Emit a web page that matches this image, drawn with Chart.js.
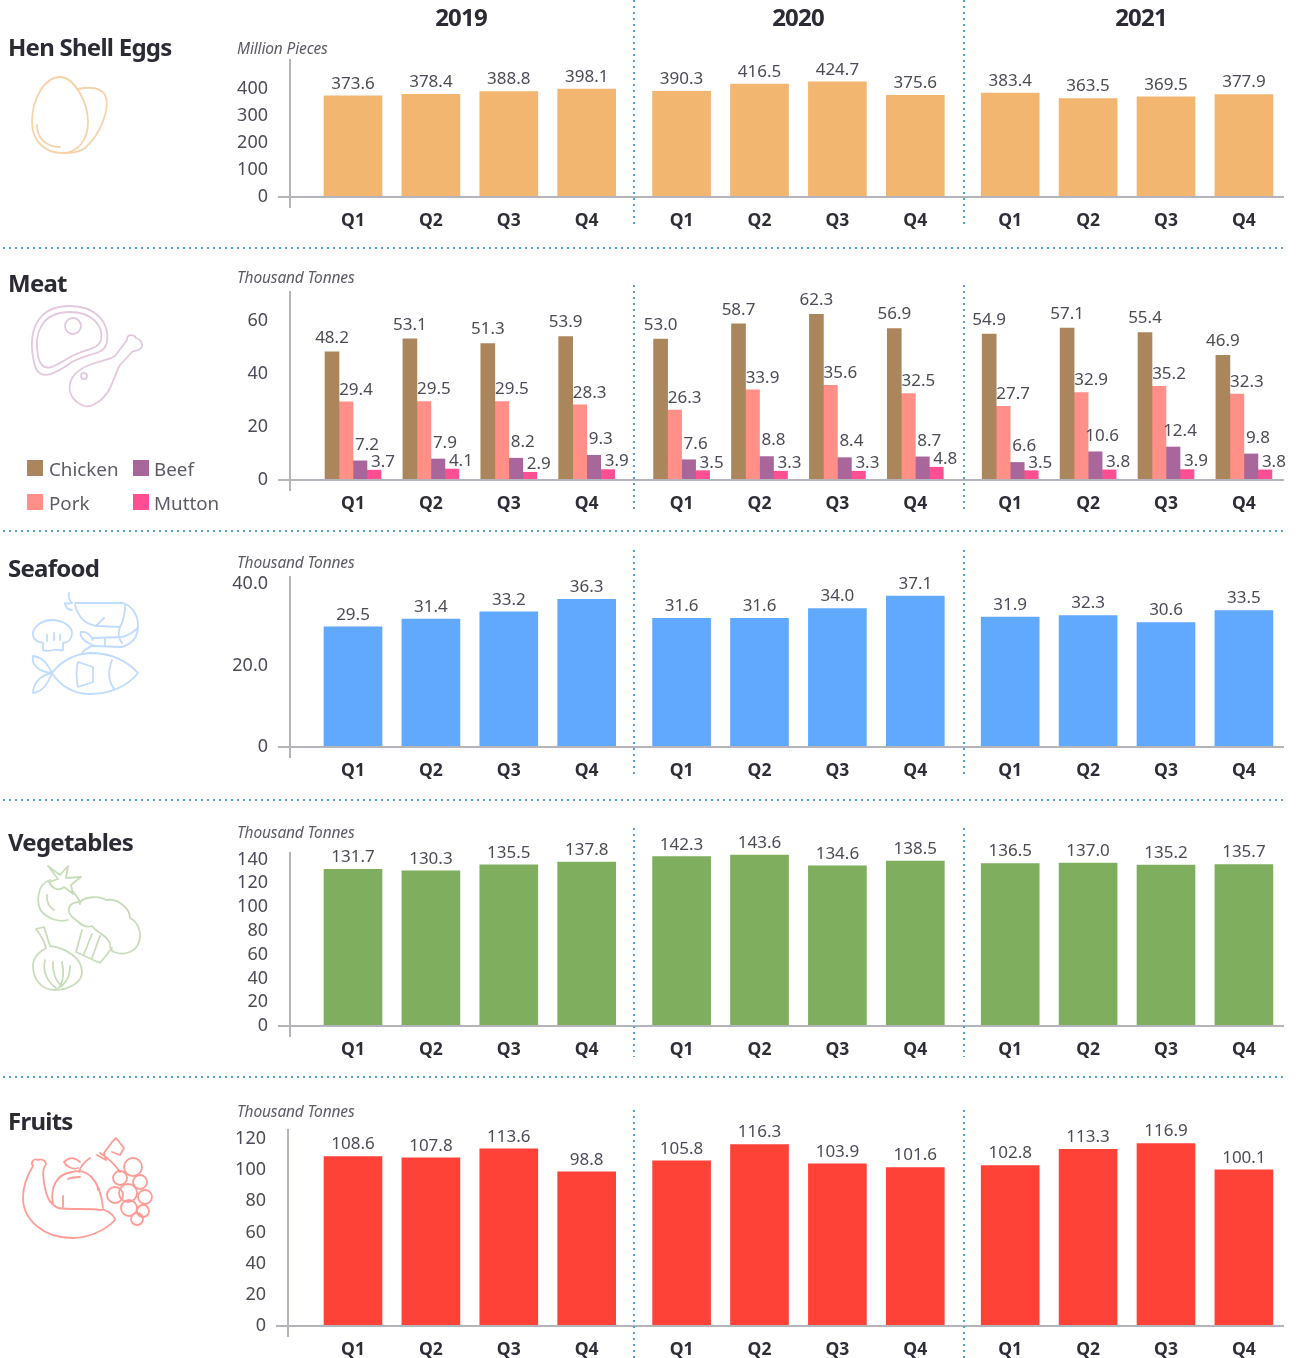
<!DOCTYPE html>
<html>
<head>
<meta charset="utf-8">
<title>Food production by quarter</title>
<script src="https://cdn.jsdelivr.net/npm/chart.js@4"></script>
<style>
    html, body { margin: 0; padding: 0; background: #fff; }
    #page { position: relative; width: 1297px; height: 1358px; overflow: hidden; font-family: "Noto Sans", sans-serif; }
    #page canvas { position: absolute; left: 0; }
    .txt { position: absolute; white-space: nowrap; line-height: 30px; height: 30px; }
    .title { left: 8px; font-size: 24px; font-weight: 700; color: #2b2b35; letter-spacing: -0.75px; }
    .year { font-size: 24px; font-weight: 700; color: #2b2b35; letter-spacing: -0.8px; transform: translateX(-50%); }
    .unit { left: 237px; font-size: 15.5px; font-style: italic; color: #5c5c66; letter-spacing: -0.15px; }
    .legend { font-size: 18.8px; color: #5c5c68; }
    .swatch { position: absolute; width: 16px; height: 16px; }
    .hline { position: absolute; left: 3px; width: 1282px; height: 2px; background: repeating-linear-gradient(90deg, #4fa5cf 0 2px, transparent 2px 6px); }
    .vline { position: absolute; width: 2px; background: repeating-linear-gradient(180deg, #4fa5cf 0 2px, transparent 2px 6px); }
    #icons { position: absolute; left: 0; top: 0; }
    #icons * { fill: none; stroke-width: 1.8; stroke-linecap: round; stroke-linejoin: round; }
</style>
</head>
<body>
<div id="page">
<svg id="icons" width="1297" height="1358">
    <g stroke="#f6d3a8">
        <path d="M60 77C44 77 32 100 32 122C32 142 46 153 62 153C78 153 88 140 88 122C88 102 74 77 60 77Z"/>
        <path d="M78 89C88 87 100 86 105 95C111 108 100 135 85 148C78 153 70 153 62 153"/>
        <path d="M37 125C37 138 46 147 60 147"/>
    </g>
    <g stroke="#e3c8de">
        <path d="M34 362C28 335 34 306 70 306C95 306 110 322 107 342C104 356 90 352 72 362C58 372 38 385 34 362Z"/>
        <path d="M38 356C34 335 40 312 70 312C92 312 104 326 101 340C98 350 86 348 70 357C56 366 42 376 38 356Z"/>
        <circle cx="73" cy="326" r="8"/>
        <path d="M70 384C72 372 84 366 98 362C106 360 112 358 115 356L127 340C126 334 134 334 136 338C142 340 144 346 140 349C136 352 134 350 132 352L120 365C116 372 114 380 110 388C104 400 92 408 84 406C74 402 68 394 70 384Z"/>
        <circle cx="84" cy="376" r="3"/>
    </g>
    <g stroke="#bfdcff">
        <path d="M69 593C68 598 70 601 72 603C68 604 65 603 65 603C65 607 68 610 72 610"/>
        <path d="M75 603L123 603C132 606 138 615 138 625C138 634 135 640 130 643C126 646 122 647 120 647L93 646"/>
        <path d="M75 605C78 616 84 625 98 626L120 627C124 620 125 612 125 605"/>
        <path d="M120 627C118 632 118 638 122 643M138 628C132 633 128 636 122 637L93 638M105 638L105 646M96 626L104 618"/>
        <path d="M93 640C90 634 86 631 81 632C79 636 84 642 93 645C88 648 84 650 82 653"/>
        <path d="M43 643C36 642 32 638 33 632C36 624 44 620 52 620C62 620 72 626 72 633C72 639 68 643 63 643L63 650C58 651 56 649 53 650C50 651 46 651 43 650Z"/>
        <path d="M47 635L47 641M54 633L54 640M60 635L60 640"/>
        <path d="M52 673C62 660 76 654 90 653C112 653 128 662 138 673C128 686 110 694 90 694C74 694 60 686 52 673Z"/>
        <path d="M52 673C47 663 42 657 33 656C31 664 38 672 52 673C40 675 33 684 33 693C42 692 48 684 52 673"/>
        <path d="M78 662L93 667L93 682L78 687C76 678 76 670 78 662ZM112 660C108 670 108 680 114 689"/>
    </g>
    <g stroke="#c8ddb9">
        <path d="M48 866L60 875L68 866L66 878L81 877L71 885L73 894L64 887C58 892 52 888 49 882L58 879Z"/>
        <path d="M50 880C36 884 36 906 42 912C50 920 60 922 68 920M72 890C78 898 80 900 80 904"/>
        <path d="M47 895C46 902 50 908 54 910"/>
        <path d="M76 920C64 912 68 902 80 902C86 896 100 896 106 900C120 898 130 910 130 918C138 922 142 932 139 942C136 952 124 956 114 952C108 950 112 944 108 940C104 934 96 932 92 926C86 928 80 924 76 920Z"/>
        <path d="M82 930L76 952L100 963L112 948M92 934L84 954M100 936L92 958"/>
        <path d="M36 929L44 927L50 946C66 948 82 958 82 972C82 984 66 990 55 990C42 990 33 980 33 966C33 956 42 950 46 948C44 940 40 934 36 929Z"/>
        <path d="M45 960C42 972 48 982 56 988M53 962C52 972 56 982 62 986M62 962C64 972 64 980 60 986M70 966C70 976 66 984 58 988"/>
    </g>
    <g stroke="#ff9c96">
        <path d="M33 1166C30 1162 34 1158 38 1160C42 1158 48 1162 45 1166C42 1170 43 1178 45 1188C47 1198 50 1204 58 1208C70 1210 90 1208 100 1210C104 1208 114 1214 115 1220C104 1232 86 1238 72 1238C44 1238 23 1220 23 1198C23 1186 28 1174 33 1166Z"/>
        <path d="M53 1204C50 1188 56 1174 72 1172C86 1168 100 1178 103 1208M63 1196L63 1207M68 1179C72 1177 76 1177 80 1177M92 1178C96 1182 98 1186 98 1190"/>
        <path d="M79 1172C80 1168 84 1162 90 1158M78 1168C72 1170 66 1166 64 1162C70 1156 76 1158 80 1162"/>
        <path d="M97 1155L106 1160L104 1153L112 1142L116 1138L124 1148L120 1155L112 1152M100 1153C108 1158 116 1166 120 1172"/>
        <circle cx="133" cy="1167" r="9"/><circle cx="120" cy="1178" r="7"/><circle cx="140" cy="1182" r="7"/>
        <circle cx="115" cy="1195" r="8"/><circle cx="128" cy="1193" r="9"/><circle cx="145" cy="1197" r="7"/>
        <circle cx="129" cy="1208" r="8"/><circle cx="143" cy="1211" r="6"/><circle cx="137" cy="1219" r="6"/>
    </g>
</svg>
</div>
<script>
const years = ['2019', '2020', '2021'];
const quarters = ['Q1', 'Q2', 'Q3', 'Q4'];

const eggs = [373.6, 378.4, 388.8, 398.1, 390.3, 416.5, 424.7, 375.6, 383.4, 363.5, 369.5, 377.9];
const chicken = [48.2, 53.1, 51.3, 53.9, 53.0, 58.7, 62.3, 56.9, 54.9, 57.1, 55.4, 46.9];
const pork = [29.4, 29.5, 29.5, 28.3, 26.3, 33.9, 35.6, 32.5, 27.7, 32.9, 35.2, 32.3];
const beef = [7.2, 7.9, 8.2, 9.3, 7.6, 8.8, 8.4, 8.7, 6.6, 10.6, 12.4, 9.8];
const mutton = [3.7, 4.1, 2.9, 3.9, 3.5, 3.3, 3.3, 4.8, 3.5, 3.8, 3.9, 3.8];
const seafood = [29.5, 31.4, 33.2, 36.3, 31.6, 31.6, 34.0, 37.1, 31.9, 32.3, 30.6, 33.5];
const vegetables = [131.7, 130.3, 135.5, 137.8, 142.3, 143.6, 134.6, 138.5, 136.5, 137.0, 135.2, 135.7];
const fruits = [108.6, 107.8, 113.6, 98.8, 105.8, 116.3, 103.9, 101.6, 102.8, 113.3, 116.9, 100.1];

const eggTicks = [0, 100, 200, 300, 400];
const meatTicks = [0, 20, 40, 60];
const seafoodTicks = [0, 20, 40];
const vegetableTicks = [0, 20, 40, 60, 80, 100, 120, 140];
const fruitTicks = [0, 20, 40, 60, 80, 100, 120];

const unitMillion = 'Million Pieces';
const unitThousand = 'Thousand Tonnes';

const page = document.getElementById('page');
const PAD_TOP = 30;
const AXIS_H = 40;
const STEP = 77.9;
const YEAR_GAP = 17 / STEP;

// quarter position along the x axis, years sit a bit further apart
const slots = eggs.map((_, i) => i + YEAR_GAP * Math.floor(i / 4));

function addText(cls, text, top, left) {
    const d = document.createElement('div');
    d.className = 'txt ' + cls;
    d.textContent = text;
    d.style.top = (top - 15) + 'px';
    if (left !== undefined) d.style.left = left + 'px';
    page.appendChild(d);
}

const barLabels = {
    id: 'barLabels',
    afterDatasetsDraw(chart) {
        const ctx = chart.ctx;
        ctx.save();
        ctx.font = '17px "Noto Sans"';
        ctx.fillStyle = '#4c4c58';
        ctx.textAlign = 'center';
        ctx.textBaseline = 'middle';
        chart.data.datasets.forEach((ds, di) => {
            chart.getDatasetMeta(di).data.forEach((bar, i) => {
                ctx.fillText(ds.data[i].y.toFixed(1), bar.x + ds.labelShift, bar.y - ds.labelGap);
            });
        });
        ctx.restore();
    }
};

const axisLines = {
    id: 'axisLines',
    afterDatasetsDraw(chart) {
        const ctx = chart.ctx;
        const area = chart.chartArea;
        const zero = chart.scales.y.getPixelForValue(0);
        ctx.save();
        ctx.strokeStyle = '#b4b4ba';
        ctx.lineWidth = 2;
        ctx.beginPath();
        ctx.moveTo(area.left - 12, zero);
        ctx.lineTo(area.right, zero);
        ctx.moveTo(area.left, area.top);
        ctx.lineTo(area.left, zero + 11);
        ctx.stroke();
        ctx.restore();
    }
};

function makeRow(row) {
    const canvas = document.createElement('canvas');
    canvas.style.top = (row.axisTop - PAD_TOP) + 'px';
    canvas.style.width = '1297px';
    canvas.style.height = (row.zeroY - row.axisTop + PAD_TOP + AXIS_H) + 'px';
    canvas.width = 1297;
    canvas.height = row.zeroY - row.axisTop + PAD_TOP + AXIS_H;
    page.appendChild(canvas);

    new Chart(canvas, {
        type: 'bar',
        data: {
            datasets: row.series.map(s => ({
                label: s.label,
                data: s.values.map((v, i) => ({ x: slots[i], y: v })),
                backgroundColor: s.color,
                barThickness: row.barWidth,
                labelShift: s.shift || 0,
                labelGap: s.gap || 12
            }))
        },
        options: {
            responsive: false,
            animation: false,
            layout: { padding: { top: PAD_TOP, right: 1297 - 1284, left: 0, bottom: 0 } },
            plugins: { legend: { display: false }, tooltip: { enabled: false } },
            scales: {
                x: {
                    type: 'linear',
                    offset: false,
                    min: (row.axisX - 353) / STEP,
                    max: (1284 - 353) / STEP,
                    grid: { display: false },
                    border: { display: false },
                    afterBuildTicks: scale => { scale.ticks = slots.map(v => ({ value: v })); },
                    afterFit: scale => { scale.height = AXIS_H; },
                    ticks: {
                        autoSkip: false,
                        maxRotation: 0,
                        padding: 6,
                        color: '#2e2e38',
                        font: { family: '"Noto Sans"', size: 17.5, weight: 'bold' },
                        callback: (v, i) => quarters[i % 4]
                    }
                },
                y: {
                    min: 0,
                    max: (row.zeroY - row.axisTop) / row.pxPerUnit,
                    grid: { display: false },
                    border: { display: false },
                    afterBuildTicks: scale => { scale.ticks = row.ticks.map(v => ({ value: v })); },
                    afterFit: scale => { scale.width = row.axisX; },
                    ticks: {
                        autoSkip: false,
                        padding: 14,
                        color: '#4c4c58',
                        font: { family: '"Noto Sans"', size: 18 },
                        callback: v => row.tickFormat ? row.tickFormat(v) : String(v)
                    }
                }
            }
        },
        plugins: [barLabels, axisLines]
    });
}

makeRow({
    axisX: 290, axisTop: 59, zeroY: 197, pxPerUnit: 0.271, barWidth: 58, ticks: eggTicks,
    series: [{ label: 'Hen Shell Eggs', values: eggs, color: '#f2b671' }]
});
makeRow({
    axisX: 290, axisTop: 291, zeroY: 480, pxPerUnit: 2.66, barWidth: 14, ticks: meatTicks,
    series: [
        { label: 'Chicken', values: chicken, color: '#ab865c', shift: 0, gap: 14 },
        { label: 'Pork', values: pork, color: '#ff8f87', shift: 10, gap: 12 },
        { label: 'Beef', values: beef, color: '#a9669a', shift: 7, gap: 16 },
        { label: 'Mutton', values: mutton, color: '#ff4f92', shift: 9, gap: 8 }
    ]
});
makeRow({
    axisX: 290, axisTop: 576, zeroY: 747, pxPerUnit: 4.07, barWidth: 58, ticks: seafoodTicks,
    tickFormat: v => v === 0 ? '0' : v.toFixed(1),
    series: [{ label: 'Seafood', values: seafood, color: '#61a8ff' }]
});
makeRow({
    axisX: 290, axisTop: 852, zeroY: 1026, pxPerUnit: 1.19, barWidth: 58, ticks: vegetableTicks,
    series: [{ label: 'Vegetables', values: vegetables, color: '#7eae5e' }]
});
makeRow({
    axisX: 288, axisTop: 1129, zeroY: 1326, pxPerUnit: 1.56, barWidth: 58, ticks: fruitTicks,
    series: [{ label: 'Fruits', values: fruits, color: '#ff4238' }]
});

// headings and unit captions
addText('title', 'Hen Shell Eggs', 47);
addText('title', 'Meat', 283);
addText('title', 'Seafood', 568);
addText('title', 'Vegetables', 842);
addText('title', 'Fruits', 1121);
addText('unit', unitMillion, 48);
addText('unit', unitThousand, 277);
addText('unit', unitThousand, 562);
addText('unit', unitThousand, 832);
addText('unit', unitThousand, 1111);
[461, 798, 1141].forEach((x, i) => addText('year', years[i], 17, x));

// meat legend
const legendNames = ['Chicken', 'Beef', 'Pork', 'Mutton'];
const legendColors = ['#ab865c', '#a9669a', '#ff8f87', '#ff4f92'];
legendNames.forEach((name, i) => {
    const left = i % 2 ? 133 : 27;
    const top = i < 2 ? 468 : 502;
    const sw = document.createElement('div');
    sw.className = 'swatch';
    sw.style.left = left + 'px';
    sw.style.top = (top - 8) + 'px';
    sw.style.background = legendColors[i];
    page.appendChild(sw);
    addText('legend', name, top + 1, left + (i % 2 ? 21 : 22));
});

// dotted separators
[247, 530, 799, 1076].forEach(y => {
    const d = document.createElement('div');
    d.className = 'hline';
    d.style.top = y + 'px';
    page.appendChild(d);
});
[[0, 228], [285, 513], [550, 778], [828, 1057], [1110, 1358]].forEach(([a, b]) => {
    [633, 963].forEach(x => {
        const d = document.createElement('div');
        d.className = 'vline';
        d.style.left = x + 'px';
        d.style.top = a + 'px';
        d.style.height = (b - a) + 'px';
        page.appendChild(d);
    });
});
</script>
</body>
</html>
